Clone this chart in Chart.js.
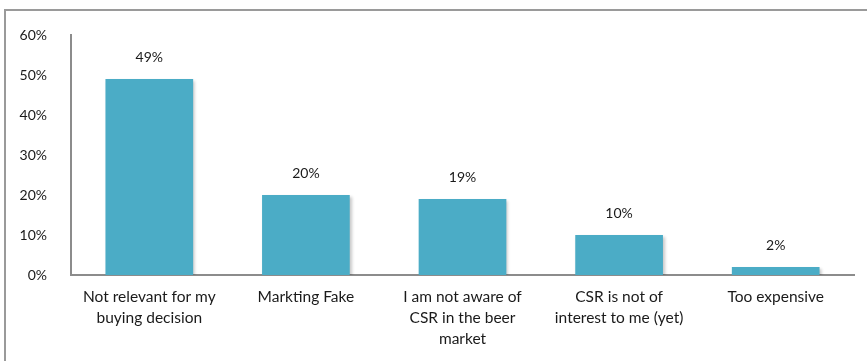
<!DOCTYPE html>
<html>
<head>
<meta charset="utf-8">
<script src="https://cdn.jsdelivr.net/npm/chart.js@4"></script>
<style>
  html, body { margin: 0; padding: 0; background: #fff; overflow: hidden; }
  body { width: 867px; height: 361px; position: relative; }
  .frame { position: absolute; left: 4px; top: 9px; width: 900px; height: 400px;
           border: 2px solid #9a9a9a; box-sizing: border-box; }
  #myChart { position: absolute; left: 0; top: 0; }
</style>
</head>
<body>
<div class="frame"></div>
<canvas id="myChart" width="867" height="361"></canvas>
<script>
"use strict";

var categories = [
    ["Not relevant for my", "buying decision"],
    "Markting Fake",
    ["I am not aware of", "CSR in the beer", "market"],
    ["CSR is not of", "interest to me (yet)"],
    "Too expensive"
];
var shares = [49, 20, 19, 10, 2];
var tickValues = [0, 10, 20, 30, 40, 50, 60];

var barColor  = '#4bacc6';
var axisColor = '#8c8c8c';
var textColor = '#1a1a1a';
var fontName  = 'Lato, "Open Sans", sans-serif';

// soft drop shadow under the bars
var barShadow = {
    id: 'barShadow',
    beforeDatasetsDraw: function (chart) {
        var ctx = chart.ctx;
        ctx.save();
        ctx.shadowColor = 'rgba(0,0,0,0.22)';
        ctx.shadowBlur = 3;
        ctx.shadowOffsetX = 2;
        ctx.shadowOffsetY = 2;
    },
    afterDatasetsDraw: function (chart) {
        chart.ctx.restore();
    }
};

// percentage written above every bar
var valueLabels = {
    id: 'valueLabels',
    afterDatasetsDraw: function (chart) {
        var ctx = chart.ctx;
        var meta = chart.getDatasetMeta(0);
        ctx.save();
        ctx.shadowColor = 'transparent';
        ctx.font = '14px ' + fontName;
        ctx.fillStyle = textColor;
        ctx.textAlign = 'center';
        ctx.textBaseline = 'middle';
        meta.data.forEach(function (bar, i) {
            ctx.fillText(shares[i] + '%', bar.x, bar.y - 22);
        });
        ctx.restore();
    }
};

new Chart(document.getElementById("myChart"), {
    type: 'bar',
    data: {
        labels: categories,
        datasets: [{
            data: shares,
            backgroundColor: barColor,
            borderWidth: 0,
            barPercentage: 0.56,
            categoryPercentage: 1
        }]
    },
    options: {
        responsive: false,
        animation: false,
        events: [],
        layout: { padding: { top: 35, right: 13, left: 0, bottom: 0 } },
        plugins: {
            legend: { display: false },
            tooltip: { enabled: false }
        },
        scales: {
            x: {
                grid: { display: false, drawTicks: false },
                border: { color: axisColor, width: 2 },
                ticks: {
                    color: textColor,
                    padding: 11,
                    font: { family: fontName, size: 15.5, lineHeight: 1.36 },
                    maxRotation: 0,
                    autoSkip: false
                },
                afterFit: function (scale) { scale.height = 86; }
            },
            y: {
                min: 0,
                max: 60,
                grid: { display: false, drawTicks: false },
                border: { color: axisColor, width: 2 },
                afterBuildTicks: function (scale) {
                    scale.ticks = tickValues.map(function (v) { return { value: v }; });
                },
                ticks: {
                    color: textColor,
                    padding: 24,
                    font: { family: fontName, size: 14 },
                    callback: function (v) { return v + '%'; }
                },
                afterFit: function (scale) { scale.width = 71; }
            }
        }
    },
    plugins: [barShadow, valueLabels]
});
</script>
</body>
</html>
